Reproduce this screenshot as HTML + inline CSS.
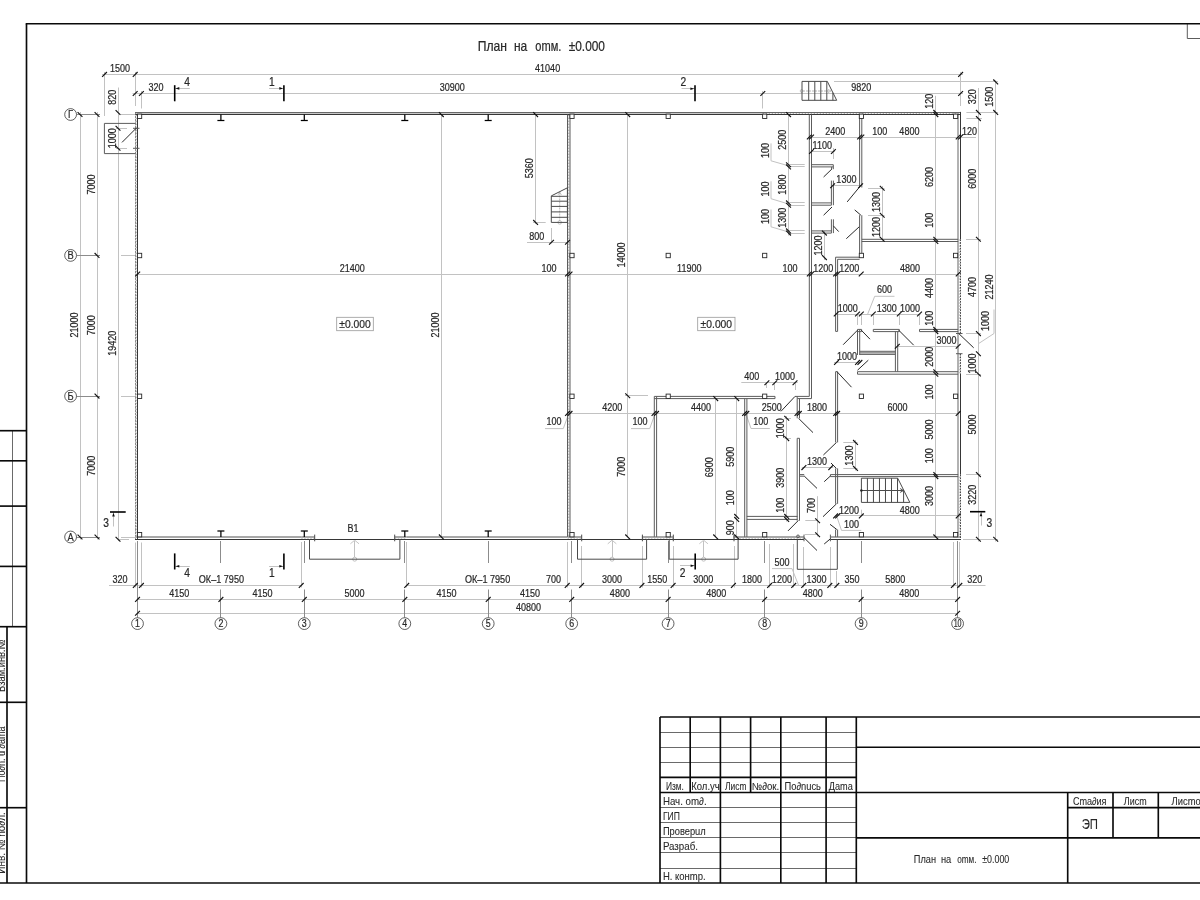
<!DOCTYPE html>
<html><head><meta charset="utf-8"><title>План на отм. ±0.000</title>
<style>
html,body{margin:0;padding:0;background:#fff}
svg{display:block}
text{font-family:"Liberation Sans",sans-serif;font-size:10.5px;fill:#262626;stroke:#262626;stroke-width:.22px;text-anchor:middle}
path,rect,circle{fill:none}
.t{stroke:#c2c2c2;stroke-width:1}
.e2{stroke:#8c8c8c;stroke-width:1}
.g{stroke:#6a6a6a;stroke-width:1}
.k{stroke:#0a0a0a;stroke-width:1.65}
.k1{stroke:#111;stroke-width:1.15}
.w{stroke:#5c5c5c;stroke-width:1}
.wd{stroke:#363636;stroke-width:1}
.wdh{stroke:#4a4a4a;stroke-width:1;stroke-dasharray:1.8 1}
.wd2{stroke:#686868;stroke-width:1}
.wi{stroke:#989898;stroke-width:1.5}
.wi2{stroke:#a8a8a8;stroke-width:2}
.wl{stroke:#8a8a8a;stroke-width:1;stroke-dasharray:2.6 .7}
.hh2{stroke:#bcbcbc;stroke-width:1;stroke-dasharray:1.6 1.4}
.m2{stroke:#4a4a4a;stroke-width:1}
.wf{stroke:#c8c8c8;stroke-width:1}
.hh{stroke:#b0b0b0;stroke-width:1.2;stroke-dasharray:1.6 1.4}
.m{stroke:#2a2a2a;stroke-width:1}
.ib{stroke:#000;stroke-width:1.25}
.sk{stroke:#000;stroke-width:1.6}
.col{stroke:#2a2a2a;stroke-width:.9;fill:#fff}
.ax{stroke:#1c1c1c;stroke-width:.7;fill:#fff}
.bx{stroke:#999;stroke-width:.8}
.tc{stroke:#aaa;stroke-width:.7}
.tc2{stroke:#b8b8b8;stroke-width:1;stroke-dasharray:2 1}
.dot{fill:#222;stroke:none}
.ar{fill:#111;stroke:none}
</style></head><body>
<svg width="1200" height="900" viewBox="0 0 1200 900">
<rect x="0" y="0" width="1200" height="900" style="fill:#fff"/>
<path class="wf" d="M135.4 113.5L762.6 113.5"/>
<path class="hh" d="M762.6 113.5L960.6 113.5"/>
<path class="hh2" d="M136.5 114.6L136.5 536.9"/>
<path class="hh2" d="M959.3 239.3L959.3 333.5"/>
<path class="hh2" d="M959.3 353.7L959.3 374"/>
<path class="hh2" d="M959.3 476.6L959.3 536.9"/>
<path class="hh2" d="M301.2 538.2L314.7 538.2"/>
<path class="hh2" d="M394.7 538.2L406.7 538.2"/>
<path class="hh2" d="M567.5 538.2L581.6 538.2"/>
<path class="hh2" d="M641.9 538.2L673.1 538.2"/>
<path class="hh2" d="M733.4 538.2L804 538.2"/>
<path class="t" d="M354.5 541L354.5 557.2"/>
<path class="tc" d="M350.4 543.8L354.7 540.2L359 543.8"/>
<circle class="tc" cx="354.7" cy="559.2" r="2"/>
<path class="t" d="M612.5 541L612.5 557.2"/>
<path class="tc" d="M607.75 543.8L612.05 540.2L616.35 543.8"/>
<circle class="tc" cx="612.05" cy="559.2" r="2"/>
<path class="t" d="M703.5 541L703.5 557.2"/>
<path class="tc" d="M699.35 543.8L703.65 540.2L707.95 543.8"/>
<circle class="tc" cx="703.65" cy="559.2" r="2"/>
<path class="t" d="M121 114.5L135.4 114.5"/>
<path class="t" d="M121 255.5L135.4 255.5"/>
<path class="t" d="M121 396.5L135.4 396.5"/>
<path class="t" d="M121 537.5L135.4 537.5"/>
<path class="t" d="M109 585.5L301.2 585.5"/>
<path class="t" d="M406.7 585.5L985.5 585.5"/>
<path class="t" d="M137.5 599.5L957.6 599.5"/>
<path class="t" d="M137.5 613.5L957.6 613.5"/>
<path class="t" d="M135.5 542.5L135.5 587.5"/>
<path class="t" d="M141.5 542.5L141.5 587.5"/>
<path class="t" d="M301.5 542L301.5 587.5"/>
<path class="t" d="M406.5 542L406.5 587.5"/>
<path class="t" d="M567.5 542L567.5 587.5"/>
<path class="t" d="M581.5 546L581.5 587.5"/>
<path class="t" d="M642.5 546L642.5 587.5"/>
<path class="t" d="M673.5 546L673.5 587.5"/>
<path class="t" d="M734.5 546L734.5 587.5"/>
<path class="t" d="M769.5 544L769.5 587.5"/>
<path class="t" d="M793.5 544L793.5 587.5"/>
<path class="t" d="M803.5 547L803.5 587.5"/>
<path class="t" d="M830.5 547L830.5 587.5"/>
<path class="t" d="M836.5 571L836.5 587.5"/>
<path class="t" d="M953.5 542L953.5 587.5"/>
<path class="t" d="M959.5 542L959.5 587.5"/>
<path class="t" d="M772 568.6L792 568.6L798.6 585.4"/>
<path class="t" d="M102 74.5L963 74.5"/>
<path class="t" d="M132.5 93.5L963 93.5"/>
<path class="t" d="M104.5 72L104.5 116"/>
<path class="t" d="M135.5 72L135.5 106"/>
<path class="t" d="M141.5 91L141.5 108.5"/>
<path class="t" d="M762.5 91L762.5 108.5"/>
<path class="t" d="M960.5 72L960.5 106"/>
<path class="t" d="M80.5 112L80.5 539.5"/>
<path class="t" d="M97.5 112L97.5 539.5"/>
<path class="t" d="M118.5 87.5L118.5 541"/>
<path class="t" d="M119 539.5L129 539.5"/>
<path class="t" d="M116 128.5L127 128.5"/>
<path class="t" d="M116 148.5L127 148.5"/>
<path class="t" d="M978.5 88L978.5 541.5"/>
<path class="t" d="M995.5 80.5L995.5 541.5"/>
<path class="t" d="M834 81.5L998 81.5"/>
<path class="t" d="M966.4 112.5L998 112.5"/>
<path class="t" d="M966.4 118.5L982 118.5"/>
<path class="t" d="M966 239.5L981 239.5"/>
<path class="t" d="M966 333.5L981 333.5"/>
<path class="t" d="M966 374.5L981 374.5"/>
<path class="t" d="M966 474.5L981 474.5"/>
<path class="t" d="M963 539.5L998 539.5"/>
<path class="t" d="M994 309.5L994 333.5L979 343.3"/>
<path class="tc2" d="M803 91L830.5 91"/>
<circle class="tc" cx="801.6" cy="91" r="1.4"/>
<path class="tc" d="M828 89.3L830.8 91L828 92.7"/>
<path class="hh" d="M568.75 114.6L568.75 536.9"/>
<path class="t" d="M137.7 274.5L958.2 274.5"/>
<path class="t" d="M441.5 114.6L441.5 536.9"/>
<path class="t" d="M535.5 114.6L535.5 224"/>
<path class="t" d="M533 222.5L545.7 222.5"/>
<path class="t" d="M527 242.5L570 242.5"/>
<path class="t" d="M551.5 228L551.5 243.5"/>
<path class="tc2" d="M559.7 192.5L559.7 221"/>
<circle class="tc" cx="559.7" cy="222.4" r="1.8"/>
<path class="tc" d="M558 195L559.7 192L561.4 195"/>
<path class="t" d="M627.5 114.6L627.5 536.9"/>
<path class="t" d="M625 395.5L648 395.5"/>
<rect class="bx" x="336.7" y="317.3" width="36.6" height="13.4"/>
<rect class="bx" x="697.7" y="317.3" width="37.3" height="13.4"/>
<path class="t" d="M567.5 413.5L958.2 413.5"/>
<path class="t" d="M568.8 413.4L563.3 428.6L545 428.6"/>
<path class="t" d="M655.2 413.4L649.7 428.6L631 428.6"/>
<path class="t" d="M745.8 413.4L751 428.5L769.8 428.5"/>
<path class="t" d="M741.3 382.5L797.7 382.5"/>
<path class="t" d="M766.5 382.7L766.5 388"/>
<path class="t" d="M774.5 382.7L774.5 390"/>
<path class="t" d="M795.5 382.7L795.5 390"/>
<path class="t" d="M715.5 398.6L715.5 536.9"/>
<path class="t" d="M736.5 398.6L736.5 536.9"/>
<path class="t" d="M809.3 137.5L976 137.5"/>
<path class="t" d="M811.5 151.5L835 151.5"/>
<path class="t" d="M833.5 148L833.5 159"/>
<path class="t" d="M833 185.5L859.6 185.5"/>
<path class="t" d="M788.5 114.6L788.5 235.5"/>
<path class="t" d="M771 143.4L771 160.8L788.5 165.8"/>
<path class="t" d="M771 181.3L771 198.7L788.5 204"/>
<path class="t" d="M771 209.5L771 226.8L788.5 232"/>
<path class="t" d="M788.5 164.5L804.7 164.5"/>
<path class="t" d="M788.5 166.5L804.7 166.5"/>
<path class="t" d="M788.5 202.5L804.7 202.5"/>
<path class="t" d="M788.5 205.5L804.7 205.5"/>
<path class="t" d="M788.5 230.5L804.7 230.5"/>
<path class="t" d="M788.5 233.5L804.7 233.5"/>
<path class="t" d="M824.5 231L824.5 260"/>
<path class="t" d="M882.5 186L882.5 241.5"/>
<path class="t" d="M868 188.5L884.5 188.5"/>
<path class="t" d="M868 215.5L884.5 215.5"/>
<path class="t" d="M935.5 95.8L935.5 536.9"/>
<path class="t" d="M835.6 314.5L920.5 314.5"/>
<path class="t" d="M857.5 314L857.5 325"/>
<path class="t" d="M861.5 314L861.5 325"/>
<path class="t" d="M873.5 314L873.5 325"/>
<path class="t" d="M899.5 314L899.5 325"/>
<path class="t" d="M919.5 314L919.5 325"/>
<path class="t" d="M867.7 314L874.7 296.3L894.5 296.3"/>
<path class="t" d="M834 362.5L861 362.5"/>
<path class="t" d="M897.7 346.5L958.2 346.5"/>
<path class="t" d="M801.8 467.5L833.3 467.5"/>
<path class="t" d="M855.5 440L855.5 470.5"/>
<path class="t" d="M843.3 442.5L857.5 442.5"/>
<path class="t" d="M843.3 468.5L857.5 468.5"/>
<path class="t" d="M786.5 416L786.5 521.5"/>
<path class="t" d="M784.5 418.5L791 418.5"/>
<path class="t" d="M784.5 438.5L791 438.5"/>
<path class="t" d="M817.5 496.2L817.5 536.5"/>
<path class="t" d="M805.3 520.5L817.6 520.5"/>
<path class="t" d="M804.75 534.5L817.6 534.5"/>
<path class="t" d="M835.6 515.5L958.2 515.5"/>
<path class="t" d="M861.5 509.7L861.5 515.9"/>
<path class="t" d="M836.6 515.9L841.5 530.4L861.3 530.4"/>
<path class="t" d="M174.7 88.5L189.8 88.5"/>
<path class="t" d="M283.9 88.5L269.1 88.5"/>
<path class="t" d="M695 88.5L681.5 88.5"/>
<path class="t" d="M174.7 566.5L189.8 566.5"/>
<path class="t" d="M283.9 566.5L269.1 566.5"/>
<path class="t" d="M695.2 565.5L680 565.5"/>
<path class="t" d="M113.5 512L113.5 526.5"/>
<path class="t" d="M981.5 511.7L981.5 525.5"/>
<path class="g" d="M12.5 430.7L12.5 626.7"/>
<path class="g" d="M660 732.5L856.3 732.5"/>
<path class="g" d="M660 747.5L856.3 747.5"/>
<path class="g" d="M660 762.5L856.3 762.5"/>
<path class="g" d="M660 807.5L856.3 807.5"/>
<path class="g" d="M660 822.5L856.3 822.5"/>
<path class="g" d="M660 837.5L856.3 837.5"/>
<path class="g" d="M660 852.5L856.3 852.5"/>
<path class="g" d="M660 868.5L856.3 868.5"/>
<path class="wl" d="M135.5 112.4L135.5 539.3"/>
<path class="wi" d="M958 114.6L958 536.9"/>
<path class="wi2" d="M135.4 537L301.2 537"/>
<path class="wi2" d="M301.2 537L314.7 537"/>
<path class="wi2" d="M394.7 537L406.7 537"/>
<path class="wi2" d="M406.7 537L567.5 537"/>
<path class="wi2" d="M567.5 537L581.6 537"/>
<path class="wi2" d="M641.9 537L673.1 537"/>
<path class="wi2" d="M733.4 537L804 537"/>
<path class="wi2" d="M830.4 537L960.6 537"/>
<path class="e2" d="M137.5 541L137.5 617.5"/>
<path class="e2" d="M220.5 541L220.5 563"/>
<path class="e2" d="M220.5 589.5L220.5 617.5"/>
<path class="e2" d="M304.5 541L304.5 563"/>
<path class="e2" d="M304.5 589.5L304.5 617.5"/>
<path class="e2" d="M404.5 541L404.5 563"/>
<path class="e2" d="M404.5 589.5L404.5 617.5"/>
<path class="e2" d="M488.5 541L488.5 563"/>
<path class="e2" d="M488.5 589.5L488.5 617.5"/>
<path class="e2" d="M571.5 541L571.5 563"/>
<path class="e2" d="M571.5 589.5L571.5 617.5"/>
<path class="e2" d="M668.5 541L668.5 563"/>
<path class="e2" d="M668.5 589.5L668.5 617.5"/>
<path class="e2" d="M764.5 541L764.5 563"/>
<path class="e2" d="M764.5 589.5L764.5 617.5"/>
<path class="e2" d="M861.5 541L861.5 563"/>
<path class="e2" d="M861.5 589.5L861.5 617.5"/>
<path class="e2" d="M957.5 541L957.5 617.5"/>
<path class="e2" d="M76.7 114.5L100 114.5"/>
<path class="e2" d="M76.7 255.5L100 255.5"/>
<path class="e2" d="M76.7 396.5L100 396.5"/>
<path class="e2" d="M76.7 537.5L100 537.5"/>
<path class="w" d="M1187.3 24L1187.3 38.5L1200 38.5"/>
<path class="wd2" d="M135 112.5L961 112.5"/>
<path class="wd" d="M135.4 114.5L960.6 114.5"/>
<path class="wd" d="M137.5 114.6L137.5 539.3"/>
<path class="wd" d="M960.5 111.9L960.5 239.3"/>
<path class="wd" d="M960.5 374L960.5 474.6"/>
<path class="wdh" d="M960.5 239.3L960.5 333.5"/>
<path class="wdh" d="M960.5 353.7L960.5 374"/>
<path class="wdh" d="M960.5 474.6L960.5 539.8"/>
<path class="w" d="M956 333.5L962.5 333.5"/>
<path class="w" d="M956 353.7L962.5 353.7"/>
<path class="wd" d="M135 539.5L804 539.5"/>
<path class="wd" d="M830.4 539.5L961 539.5"/>
<path class="m2" d="M309.5 539.3L309.5 559.2L399.9 559.2L399.9 539.3"/>
<path class="m2" d="M314.7 534.6L314.7 541.3"/>
<path class="m2" d="M394.7 534.6L394.7 541.3"/>
<path class="m2" d="M577.5 539.3L577.5 559.2L646.6 559.2L646.6 539.3"/>
<path class="m2" d="M581.7 534.6L581.7 541.3"/>
<path class="m2" d="M642.4 534.6L642.4 541.3"/>
<path class="m2" d="M669.2 539.3L669.2 559.2L738.1 559.2L738.1 539.3"/>
<path class="m2" d="M673.3 534.6L673.3 541.3"/>
<path class="m2" d="M734 534.6L734 541.3"/>
<path class="m2" d="M797.3 539.3L797.3 569.3L837.3 569.3L837.3 539.3"/>
<path class="w" d="M133 128.3L139.5 128.3"/>
<path class="w" d="M133 148.3L139.5 148.3"/>
<path class="w" d="M135.4 123.4L104.4 123.4L104.4 153.6L135.4 153.6"/>
<path class="m2" d="M802 81.4L827.3 81.4L836.7 100.3L802 100.3Z"/>
<path class="m2" d="M808.7 81.4L808.7 100.3"/>
<path class="m2" d="M814.8 81.4L814.8 100.3"/>
<path class="m2" d="M820.8 81.4L820.8 100.3"/>
<path class="m2" d="M826.8 81.4L826.8 100.3"/>
<path class="m2" d="M832.9 92.7L832.9 100.3"/>
<path class="w" d="M567.5 114.6L567.5 536.9"/>
<path class="w" d="M570 114.6L570 536.9"/>
<path class="m2" d="M551.3 195.9L567.4 187.8L567.4 222.4L551.3 222.4Z"/>
<path class="m2" d="M551.3 196.3L567.4 196.3"/>
<path class="m2" d="M551.3 201.2L567.4 201.2"/>
<path class="m2" d="M551.3 206.4L567.4 206.4"/>
<path class="m2" d="M551.3 211.9L567.4 211.9"/>
<path class="m2" d="M551.3 217.3L567.4 217.3"/>
<path class="w" d="M654.3 396.4L654.3 536.9"/>
<path class="w" d="M656.6 396.4L656.6 536.9"/>
<path class="w" d="M654.3 396.4L775 396.4"/>
<path class="w" d="M654.3 398.6L775 398.6"/>
<path class="w" d="M775 396.4L775 398.6"/>
<path class="w" d="M744.7 398.6L744.7 536.9"/>
<path class="w" d="M746.9 398.6L746.9 536.9"/>
<path class="w" d="M746.8 516.4L797.5 516.4"/>
<path class="w" d="M746.8 519.4L797.5 519.4"/>
<path class="w" d="M809.3 114.6L809.3 396.4L795 396.4"/>
<path class="w" d="M811.5 114.6L811.5 398.6L797.3 398.6"/>
<path class="w" d="M797.2 398.6L797.2 418.3"/>
<path class="w" d="M799.5 398.6L799.5 418.3"/>
<path class="w" d="M797.2 398.6L797.2 396.4"/>
<path class="w" d="M797.2 438.3L797.2 520.7"/>
<path class="w" d="M799.5 438.3L799.5 520.7"/>
<path class="w" d="M797.2 438.3L799.5 438.3"/>
<path class="w" d="M799.4 474.6L804.2 474.6"/>
<path class="w" d="M799.4 476.2L804.2 476.2"/>
<path class="w" d="M859.6 114.6L859.6 187.5"/>
<path class="w" d="M861.8 114.6L861.8 187.5"/>
<path class="w" d="M859.6 215.2L859.6 253.3"/>
<path class="w" d="M861.8 215.2L861.8 253.3"/>
<path class="w" d="M861.8 239.3L958.2 239.3"/>
<path class="w" d="M861.8 241.5L958.2 241.5"/>
<path class="w" d="M811.5 164.7L833.3 164.7"/>
<path class="w" d="M811.5 166.9L833.3 166.9"/>
<path class="w" d="M833.3 164.7L833.3 169.2"/>
<path class="w" d="M831.6 166.9L831.6 169.2"/>
<path class="w" d="M831.4 180.6L831.4 205.2"/>
<path class="w" d="M833.4 180.6L833.4 205.2"/>
<path class="w" d="M811.5 202.9L831.4 202.9"/>
<path class="w" d="M811.5 205.2L831.4 205.2"/>
<path class="w" d="M831.4 219.3L831.4 233.1"/>
<path class="w" d="M833.4 219.3L833.4 233.1"/>
<path class="w" d="M811.5 230.9L831.4 230.9"/>
<path class="w" d="M811.5 233.1L831.4 233.1"/>
<path class="w" d="M835.6 331.4L835.6 257.2L859.2 257.2"/>
<path class="w" d="M837.6 331.4L837.6 259.3L859.6 259.3"/>
<path class="w" d="M835.6 331.4L837.6 331.4"/>
<path class="w" d="M857.5 329.4L861.6 329.4"/>
<path class="w" d="M857.5 331.6L861.6 331.6"/>
<path class="w" d="M861.6 329.4L861.6 331.6"/>
<path class="w" d="M873.3 329.4L899.3 329.4"/>
<path class="w" d="M873.3 331.6L899.3 331.6"/>
<path class="w" d="M873.3 329.4L873.3 331.6"/>
<path class="w" d="M899.3 329.4L899.3 331.6"/>
<path class="w" d="M919.5 329.4L958.2 329.4"/>
<path class="w" d="M919.5 331.6L958.2 331.6"/>
<path class="w" d="M919.5 329.4L919.5 331.6"/>
<path class="w" d="M857.5 329.4L857.5 355"/>
<path class="w" d="M859.7 329.4L859.7 355"/>
<path class="w" d="M895.4 331.6L895.4 371.7"/>
<path class="w" d="M897.7 331.6L897.7 371.7"/>
<path class="w" d="M859.7 351.3L895.4 351.3"/>
<path class="w" d="M859.7 354.4L895.4 354.4"/>
<path class="w" d="M859.7 352.9L895.4 352.9"/>
<path class="w" d="M857.5 371.7L958.2 371.7"/>
<path class="w" d="M857.5 374.2L958.2 374.2"/>
<path class="w" d="M857.5 371.7L857.5 374.2"/>
<path class="w" d="M835.6 371.7L835.6 442.4"/>
<path class="w" d="M837.6 371.7L837.6 442.4"/>
<path class="w" d="M835.6 371.7L837.6 371.7"/>
<path class="w" d="M835.6 468.4L835.6 503.8"/>
<path class="w" d="M837.6 468.4L837.6 503.8"/>
<path class="w" d="M835.6 529.5L835.6 536.9"/>
<path class="w" d="M837.6 529.5L837.6 536.9"/>
<path class="w" d="M830.4 474.6L958.2 474.6"/>
<path class="w" d="M830.4 476.6L958.2 476.6"/>
<path class="w" d="M830.4 474.6L830.4 476.6"/>
<path class="w" d="M804 534.6L804 541.3"/>
<path class="w" d="M830.4 534.6L830.4 541.3"/>
<circle class="w" cx="798" cy="536.4" r="1.4"/>
<path class="m2" d="M861.4 478.2L897.7 478.2L909.8 502.4L861.4 502.4Z"/>
<path class="m2" d="M867.42 478.2L867.42 502.4"/>
<path class="m2" d="M873.44 478.2L873.44 502.4"/>
<path class="m2" d="M879.46 478.2L879.46 502.4"/>
<path class="m2" d="M885.48 478.2L885.48 502.4"/>
<path class="m2" d="M891.5 478.2L891.5 502.4"/>
<path class="m2" d="M897.52 478.2L897.52 502.4"/>
<path class="m2" d="M903.6 490L903.6 502.4"/>
<path class="m2" d="M861.4 490.5L903.2 490.5"/>
<path class="m2" d="M900.2 488.6L903.4 490.5L900.2 492.4"/>
<rect class="col" x="137.5" y="114.1" width="4.2" height="4.4"/>
<rect class="col" x="137.5" y="253.3" width="4.2" height="4.4"/>
<rect class="col" x="137.5" y="394.1" width="4.2" height="4.4"/>
<rect class="col" x="137.5" y="532.5" width="4.2" height="4.4"/>
<rect class="col" x="569.9" y="114.1" width="4.2" height="4.4"/>
<rect class="col" x="569.9" y="253.3" width="4.2" height="4.4"/>
<rect class="col" x="569.9" y="394.1" width="4.2" height="4.4"/>
<rect class="col" x="569.9" y="532.5" width="4.2" height="4.4"/>
<rect class="col" x="666.1" y="114.1" width="4.2" height="4.4"/>
<rect class="col" x="666.1" y="253.3" width="4.2" height="4.4"/>
<rect class="col" x="666.1" y="394.1" width="4.2" height="4.4"/>
<rect class="col" x="666.1" y="532.5" width="4.2" height="4.4"/>
<rect class="col" x="762.6" y="114.1" width="4.2" height="4.4"/>
<rect class="col" x="762.6" y="253.3" width="4.2" height="4.4"/>
<rect class="col" x="762.6" y="394.1" width="4.2" height="4.4"/>
<rect class="col" x="762.6" y="532.5" width="4.2" height="4.4"/>
<rect class="col" x="859.3" y="114.1" width="4.2" height="4.4"/>
<rect class="col" x="859.3" y="253.3" width="4.2" height="4.4"/>
<rect class="col" x="859.3" y="394.1" width="4.2" height="4.4"/>
<rect class="col" x="859.3" y="532.5" width="4.2" height="4.4"/>
<rect class="col" x="953.5" y="114.1" width="4.2" height="4.4"/>
<rect class="col" x="953.5" y="253.3" width="4.2" height="4.4"/>
<rect class="col" x="953.5" y="394.1" width="4.2" height="4.4"/>
<rect class="col" x="953.5" y="532.5" width="4.2" height="4.4"/>
<circle class="ax" cx="137.5" cy="623.6" r="5.9"/>
<circle class="ax" cx="220.9" cy="623.6" r="5.9"/>
<circle class="ax" cx="304.3" cy="623.6" r="5.9"/>
<circle class="ax" cx="404.8" cy="623.6" r="5.9"/>
<circle class="ax" cx="488.2" cy="623.6" r="5.9"/>
<circle class="ax" cx="571.7" cy="623.6" r="5.9"/>
<circle class="ax" cx="668.1" cy="623.6" r="5.9"/>
<circle class="ax" cx="764.6" cy="623.6" r="5.9"/>
<circle class="ax" cx="861.1" cy="623.6" r="5.9"/>
<circle class="ax" cx="957.6" cy="623.6" r="5.9"/>
<circle class="ax" cx="70.6" cy="114.5" r="5.9"/>
<circle class="ax" cx="70.6" cy="255.4" r="5.9"/>
<circle class="ax" cx="70.6" cy="396.1" r="5.9"/>
<circle class="ax" cx="70.6" cy="537" r="5.9"/>
<path class="ib" d="M220.9 114.6L220.9 120.5"/>
<path class="ib" d="M217.4 120.5L224.4 120.5"/>
<path class="ib" d="M220.9 531L220.9 536.9"/>
<path class="ib" d="M217.4 531L224.4 531"/>
<path class="ib" d="M304.3 114.6L304.3 120.5"/>
<path class="ib" d="M300.8 120.5L307.8 120.5"/>
<path class="ib" d="M304.3 531L304.3 536.9"/>
<path class="ib" d="M300.8 531L307.8 531"/>
<path class="ib" d="M404.8 114.6L404.8 120.5"/>
<path class="ib" d="M401.3 120.5L408.3 120.5"/>
<path class="ib" d="M404.8 531L404.8 536.9"/>
<path class="ib" d="M401.3 531L408.3 531"/>
<path class="ib" d="M488.2 114.6L488.2 120.5"/>
<path class="ib" d="M484.7 120.5L491.7 120.5"/>
<path class="ib" d="M488.2 531L488.2 536.9"/>
<path class="ib" d="M484.7 531L491.7 531"/>
<path class="k1" d="M132.9 587.8L137.7 583"/>
<path class="k1" d="M139 587.8L143.8 583"/>
<path class="k1" d="M298.8 587.8L303.6 583"/>
<path class="k1" d="M404.3 587.8L409.1 583"/>
<path class="k1" d="M564.8 587.8L569.6 583"/>
<path class="k1" d="M579.2 587.8L584 583"/>
<path class="k1" d="M639.5 587.8L644.3 583"/>
<path class="k1" d="M670.7 587.8L675.5 583"/>
<path class="k1" d="M731 587.8L735.8 583"/>
<path class="k1" d="M767.2 587.8L772 583"/>
<path class="k1" d="M791.3 587.8L796.1 583"/>
<path class="k1" d="M801.3 587.8L806.1 583"/>
<path class="k1" d="M827.4 587.8L832.2 583"/>
<path class="k1" d="M834.4 587.8L839.2 583"/>
<path class="k1" d="M951 587.8L955.8 583"/>
<path class="k1" d="M957.4 587.8L962.2 583"/>
<path class="k1" d="M135.1 601.8L139.9 597"/>
<path class="k1" d="M218.5 601.8L223.3 597"/>
<path class="k1" d="M301.9 601.8L306.7 597"/>
<path class="k1" d="M402.4 601.8L407.2 597"/>
<path class="k1" d="M485.8 601.8L490.6 597"/>
<path class="k1" d="M569.3 601.8L574.1 597"/>
<path class="k1" d="M665.7 601.8L670.5 597"/>
<path class="k1" d="M762.2 601.8L767 597"/>
<path class="k1" d="M858.7 601.8L863.5 597"/>
<path class="k1" d="M955.2 601.8L960 597"/>
<path class="k1" d="M135.1 615.7L139.9 610.9"/>
<path class="k1" d="M955.2 615.7L960 610.9"/>
<path class="k1" d="M102.1 76.8L106.9 72"/>
<path class="k1" d="M132.8 76.8L137.6 72"/>
<path class="k1" d="M958.2 76.8L963 72"/>
<path class="k1" d="M132.8 95.9L137.6 91.1"/>
<path class="k1" d="M139 95.9L143.8 91.1"/>
<path class="k1" d="M760.4 95.9L765.2 91.1"/>
<path class="k1" d="M958.2 95.9L963 91.1"/>
<path class="k1" d="M77.6 112.1L82.4 116.9"/>
<path class="k1" d="M77.6 534.6L82.4 539.4"/>
<path class="k1" d="M94.6 112.1L99.4 116.9"/>
<path class="k1" d="M94.6 253L99.4 257.8"/>
<path class="k1" d="M94.6 393.7L99.4 398.5"/>
<path class="k1" d="M94.6 534.6L99.4 539.4"/>
<path class="k1" d="M115.6 110.1L120.4 114.9"/>
<path class="k1" d="M115.6 125.9L120.4 130.7"/>
<path class="k1" d="M115.6 145.9L120.4 150.7"/>
<path class="k1" d="M115.6 536.8L120.4 541.6"/>
<path class="m" d="M122 142.4L136.4 128"/>
<path class="k1" d="M976 110L980.8 114.8"/>
<path class="k1" d="M976 116.2L980.8 121"/>
<path class="k1" d="M976 236.9L980.8 241.7"/>
<path class="k1" d="M976 331.2L980.8 336"/>
<path class="k1" d="M976 351.4L980.8 356.2"/>
<path class="k1" d="M976 371.6L980.8 376.4"/>
<path class="k1" d="M976 472.2L980.8 477"/>
<path class="k1" d="M976 536.9L980.8 541.7"/>
<path class="k1" d="M993.3 79.5L998.1 84.3"/>
<path class="k1" d="M993.3 110L998.1 114.8"/>
<path class="k1" d="M993.3 536.9L998.1 541.7"/>
<path class="m" d="M958.7 333.5L973.7 347.8"/>
<path class="k1" d="M135.3 276.4L140.1 271.6"/>
<path class="k1" d="M565.1 276.4L569.9 271.6"/>
<path class="k1" d="M567.6 276.4L572.4 271.6"/>
<path class="k1" d="M806.9 276.4L811.7 271.6"/>
<path class="k1" d="M809.1 276.4L813.9 271.6"/>
<path class="k1" d="M833.2 276.4L838 271.6"/>
<path class="k1" d="M835.2 276.4L840 271.6"/>
<path class="k1" d="M858.8 276.4L863.6 271.6"/>
<path class="k1" d="M955.8 276.4L960.6 271.6"/>
<path class="k1" d="M438.9 112.2L443.7 117"/>
<path class="k1" d="M438.9 534.5L443.7 539.3"/>
<path class="k1" d="M533.2 112.2L538 117"/>
<path class="k1" d="M533.2 220L538 224.8"/>
<path class="k1" d="M549.1 244.6L553.9 239.8"/>
<path class="k1" d="M565.1 244.6L569.9 239.8"/>
<path class="k1" d="M625.3 112.2L630.1 117"/>
<path class="k1" d="M625.3 393.4L630.1 398.2"/>
<path class="k1" d="M625.3 534.5L630.1 539.3"/>
<path class="k1" d="M565.1 415.8L569.9 411"/>
<path class="k1" d="M567.6 415.8L572.4 411"/>
<path class="k1" d="M651.6 415.8L656.4 411"/>
<path class="k1" d="M654.1 415.8L658.9 411"/>
<path class="k1" d="M742.2 415.8L747 411"/>
<path class="k1" d="M744.4 415.8L749.2 411"/>
<path class="k1" d="M794.6 415.8L799.4 411"/>
<path class="k1" d="M796.9 415.8L801.7 411"/>
<path class="k1" d="M833.3 415.8L838.1 411"/>
<path class="k1" d="M835.2 415.8L840 411"/>
<path class="k1" d="M955.8 415.8L960.6 411"/>
<path class="k1" d="M764.5 385.1L769.3 380.3"/>
<path class="k1" d="M772.4 385.1L777.2 380.3"/>
<path class="k1" d="M792.6 385.1L797.4 380.3"/>
<path class="k1" d="M713.3 396.2L718.1 401"/>
<path class="k1" d="M713.3 534.5L718.1 539.3"/>
<path class="k1" d="M734.3 396.2L739.1 401"/>
<path class="k1" d="M734.3 514L739.1 518.8"/>
<path class="k1" d="M734.3 517L739.1 521.8"/>
<path class="k1" d="M734.3 534.5L739.1 539.3"/>
<path class="m" d="M795 396.4L781 411.3"/>
<path class="m" d="M798.5 418.3L813 432.6"/>
<path class="m" d="M798.3 520.5L788 530.9"/>
<path class="m" d="M804.2 476L817 488.4"/>
<path class="m" d="M861 185.2L847.2 201.9"/>
<path class="m" d="M854.7 209.9L860.9 215.2"/>
<path class="m" d="M859.2 226.8L846.3 238.7"/>
<path class="m" d="M831.9 169L823.6 177"/>
<path class="m" d="M832 207L823.6 215.2"/>
<path class="m" d="M833.4 225.9L838.7 231.6"/>
<path class="k1" d="M806.9 139.4L811.7 134.6"/>
<path class="k1" d="M809.1 139.4L813.9 134.6"/>
<path class="k1" d="M857.2 139.4L862 134.6"/>
<path class="k1" d="M859.4 139.4L864.2 134.6"/>
<path class="k1" d="M955.8 139.4L960.6 134.6"/>
<path class="k1" d="M958.2 139.4L963 134.6"/>
<path class="k1" d="M809.1 153.9L813.9 149.1"/>
<path class="k1" d="M831 153.9L835.8 149.1"/>
<path class="k1" d="M830.2 188.2L835 183.4"/>
<path class="k1" d="M858.2 188.2L863 183.4"/>
<path class="k1" d="M786.1 112.2L790.9 117"/>
<path class="k1" d="M786.1 162.3L790.9 167.1"/>
<path class="k1" d="M786.1 164.5L790.9 169.3"/>
<path class="k1" d="M786.1 200.5L790.9 205.3"/>
<path class="k1" d="M786.1 202.8L790.9 207.6"/>
<path class="k1" d="M786.1 228.5L790.9 233.3"/>
<path class="k1" d="M786.1 230.7L790.9 235.5"/>
<path class="k1" d="M822 230.7L826.8 235.5"/>
<path class="k1" d="M822 255.2L826.8 260"/>
<path class="k1" d="M879.8 185.8L884.6 190.6"/>
<path class="k1" d="M879.8 212.8L884.6 217.6"/>
<path class="k1" d="M879.8 236.9L884.6 241.7"/>
<path class="k1" d="M933.4 110L938.2 114.8"/>
<path class="k1" d="M933.4 112.2L938.2 117"/>
<path class="k1" d="M933.4 236.9L938.2 241.7"/>
<path class="k1" d="M933.4 239.1L938.2 243.9"/>
<path class="k1" d="M933.4 327L938.2 331.8"/>
<path class="k1" d="M933.4 329.2L938.2 334"/>
<path class="k1" d="M933.4 369.3L938.2 374.1"/>
<path class="k1" d="M933.4 371.8L938.2 376.6"/>
<path class="k1" d="M933.4 472.1L938.2 476.9"/>
<path class="k1" d="M933.4 474.2L938.2 479"/>
<path class="k1" d="M933.4 534.5L938.2 539.3"/>
<path class="k1" d="M833.8 316.4L838.6 311.6"/>
<path class="k1" d="M855.1 316.4L859.9 311.6"/>
<path class="k1" d="M858.9 316.4L863.7 311.6"/>
<path class="k1" d="M870.9 316.4L875.7 311.6"/>
<path class="k1" d="M896.9 316.4L901.7 311.6"/>
<path class="k1" d="M917.1 316.4L921.9 311.6"/>
<path class="m" d="M857.5 330.2L843.2 344.7"/>
<path class="m" d="M861.3 330.2L870 339.2"/>
<path class="m" d="M898.7 330.2L913.7 345.2"/>
<path class="m" d="M857.5 370.2L868.3 360.2"/>
<path class="k1" d="M834.1 364.8L838.9 360"/>
<path class="k1" d="M855.1 364.8L859.9 360"/>
<path class="k1" d="M857.5 364.8L862.3 360"/>
<path class="k1" d="M894.9 348.6L899.7 343.8"/>
<path class="k1" d="M955.8 348.6L960.6 343.8"/>
<path class="m" d="M837 371.7L851.5 387.2"/>
<path class="m" d="M836.5 442.4L823.4 455"/>
<path class="m" d="M831 463L836.3 468.4"/>
<path class="m" d="M836.5 503.8L823 516.7"/>
<path class="m" d="M830 524.3L836.8 529.5"/>
<path class="m" d="M830.4 476L824.2 481.7"/>
<path class="k1" d="M801.5 470L806.3 465.2"/>
<path class="k1" d="M828.4 470L833.2 465.2"/>
<path class="k1" d="M853.1 440L857.9 444.8"/>
<path class="k1" d="M853.1 466L857.9 470.8"/>
<path class="k1" d="M784.3 415.9L789.1 420.7"/>
<path class="k1" d="M784.3 436.2L789.1 441"/>
<path class="k1" d="M784.3 514L789.1 518.8"/>
<path class="k1" d="M784.3 517L789.1 521.8"/>
<path class="k1" d="M815.2 518.35L820 523.15"/>
<path class="k1" d="M815.2 532.35L820 537.15"/>
<path class="k1" d="M833.2 518.3L838 513.5"/>
<path class="k1" d="M835.2 518.3L840 513.5"/>
<path class="k1" d="M858.9 518.3L863.7 513.5"/>
<path class="k1" d="M955.8 518.3L960.6 513.5"/>
<path class="m" d="M804 537.7L817 550.5"/>
<path class="m" d="M830.4 538.8L824.2 544"/>
<circle class="dot" cx="861.4" cy="490.5" r="1.2"/>
<path class="sk" d="M174.7 85.2L174.7 101.3"/>
<path class="ar" d="M175.5 88.4L179.3 87.1L179.3 89.7Z"/>
<path class="sk" d="M283.9 85.2L283.9 101.3"/>
<path class="ar" d="M283.1 88.4L279.3 87.1L279.3 89.7Z"/>
<path class="sk" d="M695 85.2L695 101.3"/>
<path class="ar" d="M694.2 88.8L690.4 87.5L690.4 90.1Z"/>
<path class="sk" d="M174.7 553.4L174.7 569.5"/>
<path class="ar" d="M175.5 566.2L179.3 564.9L179.3 567.5Z"/>
<path class="sk" d="M283.9 553.4L283.9 569.5"/>
<path class="ar" d="M283.1 566.2L279.3 564.9L279.3 567.5Z"/>
<path class="sk" d="M695.2 553.4L695.2 569.5"/>
<path class="ar" d="M694.4 565.8L690.6 564.5L690.6 567.1Z"/>
<path class="sk" d="M110 512L125.7 512"/>
<path class="ar" d="M113.5 512.8L112.2 516.6L114.8 516.6Z"/>
<path class="sk" d="M970 511.7L985.3 511.7"/>
<path class="ar" d="M981 512.5L979.7 516.3L982.3 516.3Z"/>
<path class="k" d="M25.7 23.75L1200 23.75"/>
<path class="k" d="M26.5 23.75L26.5 883"/>
<path class="k" d="M0 883L1200 883"/>
<path class="k" d="M0 430.7L26.5 430.7"/>
<path class="k" d="M0 460.8L26.5 460.8"/>
<path class="k" d="M0 506.1L26.5 506.1"/>
<path class="k" d="M0 566.4L26.5 566.4"/>
<path class="k" d="M0 626.7L26.5 626.7"/>
<path class="k" d="M0 702.3L26.5 702.3"/>
<path class="k" d="M0 807.7L26.5 807.7"/>
<path class="k" d="M7 626.7L7 883"/>
<path class="k" d="M660 717L1200 717"/>
<path class="k" d="M660 777.4L856.3 777.4"/>
<path class="k" d="M660 792.5L1200 792.5"/>
<path class="k" d="M856.3 747.2L1200 747.2"/>
<path class="k" d="M856.3 837.8L1200 837.8"/>
<path class="k" d="M660 717L660 883"/>
<path class="k" d="M690.2 717L690.2 792.5"/>
<path class="k" d="M750.6 717L750.6 792.5"/>
<path class="k" d="M720.4 717L720.4 883"/>
<path class="k" d="M780.8 717L780.8 883"/>
<path class="k" d="M826.1 717L826.1 883"/>
<path class="k" d="M856.3 717L856.3 883"/>
<path class="k" d="M1067.7 792.5L1067.7 883"/>
<path class="k" d="M1113 792.5L1113 837.8"/>
<path class="k" d="M1158.3 792.5L1158.3 837.8"/>
<path class="k" d="M1067.7 807.6L1200 807.6"/>
<g opacity="0.99">
<text transform="translate(4.6 665.7) rotate(-90) scale(1 1)" style="font-size:10.3px;stroke-width:.08px;" textLength="52.5" lengthAdjust="spacingAndGlyphs">Взам.инв.№</text>
<text transform="translate(4.6 754.3) rotate(-90) scale(1 1)" style="font-size:10.3px;stroke-width:.08px;" textLength="55.5" lengthAdjust="spacingAndGlyphs">По∂n. u ∂аmа</text>
<text transform="translate(4.6 842.9) rotate(-90) scale(1 1)" style="font-size:10.3px;stroke-width:.08px;" textLength="61.5" lengthAdjust="spacingAndGlyphs">Инв. № nо∂л.</text>
<text transform="translate(674.9 789.7) scale(0.84 1)" style="font-size:10.3px;stroke-width:.08px;" textLength="21.43" lengthAdjust="spacingAndGlyphs">Изм.</text>
<text transform="translate(705.5 789.7) scale(0.8 1)" style="font-size:10.3px;stroke-width:.08px;" textLength="35.62" lengthAdjust="spacingAndGlyphs">Кол.уч</text>
<text transform="translate(735.7 789.7) scale(0.84 1)" style="font-size:10.3px;stroke-width:.08px;" textLength="25.48" lengthAdjust="spacingAndGlyphs">Лисm</text>
<text transform="translate(765.5 789.7) scale(0.8 1)" style="font-size:10.3px;stroke-width:.08px;" textLength="34.25" lengthAdjust="spacingAndGlyphs">№∂ок.</text>
<text transform="translate(802.7 789.7) scale(0.84 1)" style="font-size:10.3px;stroke-width:.08px;" textLength="43.33" lengthAdjust="spacingAndGlyphs">По∂nucь</text>
<text transform="translate(840.8 789.7) scale(0.84 1)" style="font-size:10.3px;stroke-width:.08px;" textLength="28.57" lengthAdjust="spacingAndGlyphs">Даmа</text>
<text transform="translate(662.9 804.6) scale(0.84 1)" style="text-anchor:start;font-size:10.3px;stroke-width:.08px;" textLength="52.02" lengthAdjust="spacingAndGlyphs">Нач. оm∂.</text>
<text transform="translate(662.9 819.6) scale(0.84 1)" style="text-anchor:start;font-size:10.3px;stroke-width:.08px;" textLength="20.24" lengthAdjust="spacingAndGlyphs">ГИП</text>
<text transform="translate(662.9 834.8) scale(0.84 1)" style="text-anchor:start;font-size:10.3px;stroke-width:.08px;" textLength="50.95" lengthAdjust="spacingAndGlyphs">Проверuл</text>
<text transform="translate(662.9 849.7) scale(0.84 1)" style="text-anchor:start;font-size:10.3px;stroke-width:.08px;" textLength="41.67" lengthAdjust="spacingAndGlyphs">Разраб.</text>
<text transform="translate(662.9 880.2) scale(0.84 1)" style="text-anchor:start;font-size:10.3px;stroke-width:.08px;" textLength="50.95" lengthAdjust="spacingAndGlyphs">Н. конmр.</text>
<text transform="translate(1089.7 805) scale(0.84 1)" style="font-size:10.3px;stroke-width:.08px;" textLength="40" lengthAdjust="spacingAndGlyphs">Сmа∂ия</text>
<text transform="translate(1135.2 805) scale(0.84 1)" style="font-size:10.3px;stroke-width:.08px;" textLength="27.02" lengthAdjust="spacingAndGlyphs">Лисm</text>
<text transform="translate(1171.6 805) scale(0.84 1)" style="text-anchor:start;font-size:10.3px;stroke-width:.08px;" textLength="40.48" lengthAdjust="spacingAndGlyphs">Лисmов</text>
<text transform="translate(1089.8 828.8) scale(0.8 1)" style="font-size:15.2px;stroke-width:.08px;" textLength="20.38" lengthAdjust="spacingAndGlyphs">ЭП</text>
<text transform="translate(913.8 863.2) scale(0.84 1)" style="text-anchor:start;font-size:10.3px;stroke-width:.08px;" textLength="26.43" lengthAdjust="spacingAndGlyphs">План</text>
<text transform="translate(940.9 863.2) scale(0.84 1)" style="text-anchor:start;font-size:10.3px;stroke-width:.08px;" textLength="12.26" lengthAdjust="spacingAndGlyphs">на</text>
<text transform="translate(957.2 863.2) scale(0.84 1)" style="text-anchor:start;font-size:10.3px;stroke-width:.08px;" textLength="22.98" lengthAdjust="spacingAndGlyphs">оmм.</text>
<text transform="translate(982.2 863.2) scale(0.84 1)" style="text-anchor:start;font-size:10.3px;stroke-width:.08px;" textLength="32.26" lengthAdjust="spacingAndGlyphs">±0.000</text>
<text transform="translate(477.7 50.9) scale(0.84 1)" style="text-anchor:start;font-size:14px;" textLength="34.76" lengthAdjust="spacingAndGlyphs">План</text>
<text transform="translate(514 50.9) scale(0.84 1)" style="text-anchor:start;font-size:14px;" textLength="15.83" lengthAdjust="spacingAndGlyphs">на</text>
<text transform="translate(535.3 50.9) scale(0.84 1)" style="text-anchor:start;font-size:14px;" textLength="30.95" lengthAdjust="spacingAndGlyphs">оmм.</text>
<text transform="translate(568.7 50.9) scale(0.84 1)" style="text-anchor:start;font-size:14px;" textLength="43.21" lengthAdjust="spacingAndGlyphs">±0.000</text>
<text transform="translate(353.1 531.8) scale(0.88 1)" style="font-size:10.2px;">В1</text>
<text transform="translate(137.5 627.4) scale(0.82 1)" style="font-size:10.8px;">1</text>
<text transform="translate(220.9 627.4) scale(0.82 1)" style="font-size:10.8px;">2</text>
<text transform="translate(304.3 627.4) scale(0.82 1)" style="font-size:10.8px;">3</text>
<text transform="translate(404.8 627.4) scale(0.82 1)" style="font-size:10.8px;">4</text>
<text transform="translate(488.2 627.4) scale(0.82 1)" style="font-size:10.8px;">5</text>
<text transform="translate(571.7 627.4) scale(0.82 1)" style="font-size:10.8px;">6</text>
<text transform="translate(668.1 627.4) scale(0.82 1)" style="font-size:10.8px;">7</text>
<text transform="translate(764.6 627.4) scale(0.82 1)" style="font-size:10.8px;">8</text>
<text transform="translate(861.1 627.4) scale(0.82 1)" style="font-size:10.8px;">9</text>
<text transform="translate(957.6 627.4) scale(0.66 1)" style="font-size:10.8px;">10</text>
<text transform="translate(70.6 118.4) scale(0.85 1)" style="font-size:11px;">Г</text>
<text transform="translate(70.6 259.3) scale(0.85 1)" style="font-size:11px;">В</text>
<text transform="translate(70.6 400) scale(0.85 1)" style="font-size:11px;">Б</text>
<text transform="translate(70.6 540.9) scale(0.85 1)" style="font-size:11px;">А</text>
<text transform="translate(120 583) scale(0.86 1)">320</text>
<text transform="translate(221.4 583) scale(0.86 1)" textLength="52.56" lengthAdjust="spacingAndGlyphs">ОК–1 7950</text>
<text transform="translate(487.6 583) scale(0.86 1)" textLength="52.56" lengthAdjust="spacingAndGlyphs">ОК–1 7950</text>
<text transform="translate(553.5 583) scale(0.86 1)">700</text>
<text transform="translate(612 583) scale(0.86 1)">3000</text>
<text transform="translate(657.3 583) scale(0.86 1)">1550</text>
<text transform="translate(703.2 583) scale(0.86 1)">3000</text>
<text transform="translate(752 583) scale(0.86 1)">1800</text>
<text transform="translate(781.9 583) scale(0.86 1)">1200</text>
<text transform="translate(816.5 583) scale(0.86 1)">1300</text>
<text transform="translate(852 583) scale(0.86 1)">350</text>
<text transform="translate(895.2 583) scale(0.86 1)">5800</text>
<text transform="translate(974.7 583) scale(0.86 1)">320</text>
<text transform="translate(179.2 597) scale(0.86 1)">4150</text>
<text transform="translate(262.6 597) scale(0.86 1)">4150</text>
<text transform="translate(354.55 597) scale(0.86 1)">5000</text>
<text transform="translate(446.5 597) scale(0.86 1)">4150</text>
<text transform="translate(529.95 597) scale(0.86 1)">4150</text>
<text transform="translate(619.9 597) scale(0.86 1)">4800</text>
<text transform="translate(716.35 597) scale(0.86 1)">4800</text>
<text transform="translate(812.85 597) scale(0.86 1)">4800</text>
<text transform="translate(909.35 597) scale(0.86 1)">4800</text>
<text transform="translate(528.5 610.9) scale(0.86 1)">40800</text>
<text transform="translate(782 566.2) scale(0.86 1)">500</text>
<text transform="translate(120 72) scale(0.86 1)">1500</text>
<text transform="translate(547.6 72) scale(0.86 1)">41040</text>
<text transform="translate(156 91.1) scale(0.86 1)">320</text>
<text transform="translate(452.3 91.1) scale(0.86 1)">30900</text>
<text transform="translate(861.3 91.1) scale(0.86 1)">9820</text>
<text transform="translate(77.6 325) rotate(-90) scale(0.86 1)">21000</text>
<text transform="translate(94.6 184.5) rotate(-90) scale(0.86 1)">7000</text>
<text transform="translate(94.6 325.3) rotate(-90) scale(0.86 1)">7000</text>
<text transform="translate(94.6 465.8) rotate(-90) scale(0.86 1)">7000</text>
<text transform="translate(115.6 343.3) rotate(-90) scale(0.86 1)">19420</text>
<text transform="translate(115.6 97.3) rotate(-90) scale(0.86 1)">820</text>
<text transform="translate(115.6 138.3) rotate(-90) scale(0.86 1)">1000</text>
<text transform="translate(976 96.8) rotate(-90) scale(0.86 1)">320</text>
<text transform="translate(976 178.7) rotate(-90) scale(0.86 1)">6000</text>
<text transform="translate(976 287) rotate(-90) scale(0.86 1)">4700</text>
<text transform="translate(976 363.5) rotate(-90) scale(0.86 1)">1000</text>
<text transform="translate(976 424.4) rotate(-90) scale(0.86 1)">5000</text>
<text transform="translate(976 494.8) rotate(-90) scale(0.86 1)">3220</text>
<text transform="translate(993.3 96.8) rotate(-90) scale(0.86 1)">1500</text>
<text transform="translate(993.3 287) rotate(-90) scale(0.86 1)">21240</text>
<text transform="translate(988.5 321) rotate(-90) scale(0.86 1)">1000</text>
<text transform="translate(352.3 271.6) scale(0.86 1)">21400</text>
<text transform="translate(549 271.6) scale(0.86 1)">100</text>
<text transform="translate(689.3 271.6) scale(0.86 1)">11900</text>
<text transform="translate(790 271.6) scale(0.86 1)">100</text>
<text transform="translate(823.3 271.6) scale(0.86 1)">1200</text>
<text transform="translate(849.3 271.6) scale(0.86 1)">1200</text>
<text transform="translate(910 271.6) scale(0.86 1)">4800</text>
<text transform="translate(438.9 325) rotate(-90) scale(0.86 1)">21000</text>
<text transform="translate(533.2 168.3) rotate(-90) scale(0.86 1)">5360</text>
<text transform="translate(536.7 239.8) scale(0.86 1)">800</text>
<text transform="translate(625.3 255) rotate(-90) scale(0.86 1)">14000</text>
<text transform="translate(625.3 466.7) rotate(-90) scale(0.86 1)">7000</text>
<text transform="translate(355 328) scale(0.9 1)" style="font-size:11.8px;" textLength="35" lengthAdjust="spacingAndGlyphs">±0.000</text>
<text transform="translate(716.35 328) scale(0.9 1)" style="font-size:11.8px;" textLength="35" lengthAdjust="spacingAndGlyphs">±0.000</text>
<text transform="translate(612.3 411) scale(0.86 1)">4200</text>
<text transform="translate(701 411) scale(0.86 1)">4400</text>
<text transform="translate(771.7 411) scale(0.86 1)">2500</text>
<text transform="translate(817 411) scale(0.86 1)">1800</text>
<text transform="translate(897.5 411) scale(0.86 1)">6000</text>
<text transform="translate(554 425) scale(0.86 1)">100</text>
<text transform="translate(640 425) scale(0.86 1)">100</text>
<text transform="translate(760.8 424.5) scale(0.86 1)">100</text>
<text transform="translate(751.7 379.8) scale(0.86 1)">400</text>
<text transform="translate(785 379.8) scale(0.86 1)">1000</text>
<text transform="translate(713.3 467.3) rotate(-90) scale(0.86 1)">6900</text>
<text transform="translate(734.3 456.7) rotate(-90) scale(0.86 1)">5900</text>
<text transform="translate(734.3 497.7) rotate(-90) scale(0.86 1)">100</text>
<text transform="translate(734.3 527.7) rotate(-90) scale(0.86 1)">900</text>
<text transform="translate(835.3 134.6) scale(0.86 1)">2400</text>
<text transform="translate(879.8 134.6) scale(0.86 1)">100</text>
<text transform="translate(909.4 134.6) scale(0.86 1)">4800</text>
<text transform="translate(969.5 134.6) scale(0.86 1)">120</text>
<text transform="translate(822.3 149.1) scale(0.86 1)">1100</text>
<text transform="translate(846.4 183.4) scale(0.86 1)">1300</text>
<text transform="translate(786.1 139.7) rotate(-90) scale(0.86 1)">2500</text>
<text transform="translate(786.1 184.6) rotate(-90) scale(0.86 1)">1800</text>
<text transform="translate(786.1 217.7) rotate(-90) scale(0.86 1)">1300</text>
<text transform="translate(768.6 150.6) rotate(-90) scale(0.86 1)">100</text>
<text transform="translate(768.6 189) rotate(-90) scale(0.86 1)">100</text>
<text transform="translate(768.6 216.4) rotate(-90) scale(0.86 1)">100</text>
<text transform="translate(822 245.4) rotate(-90) scale(0.86 1)">1200</text>
<text transform="translate(879.8 202) rotate(-90) scale(0.86 1)">1300</text>
<text transform="translate(879.8 227) rotate(-90) scale(0.86 1)">1200</text>
<text transform="translate(933.4 101.2) rotate(-90) scale(0.86 1)">120</text>
<text transform="translate(933.4 177) rotate(-90) scale(0.86 1)">6200</text>
<text transform="translate(933.4 220.3) rotate(-90) scale(0.86 1)">100</text>
<text transform="translate(933.4 288) rotate(-90) scale(0.86 1)">4400</text>
<text transform="translate(933.4 318.2) rotate(-90) scale(0.86 1)">100</text>
<text transform="translate(933.4 356.7) rotate(-90) scale(0.86 1)">2000</text>
<text transform="translate(933.4 392) rotate(-90) scale(0.86 1)">100</text>
<text transform="translate(933.4 429.4) rotate(-90) scale(0.86 1)">5000</text>
<text transform="translate(933.4 455.8) rotate(-90) scale(0.86 1)">100</text>
<text transform="translate(933.4 496) rotate(-90) scale(0.86 1)">3000</text>
<text transform="translate(847.7 311.6) scale(0.86 1)">1000</text>
<text transform="translate(886.7 311.6) scale(0.86 1)">1300</text>
<text transform="translate(910 311.6) scale(0.86 1)">1000</text>
<text transform="translate(884.5 292.8) scale(0.86 1)">600</text>
<text transform="translate(847 360) scale(0.86 1)">1000</text>
<text transform="translate(946.5 343.8) scale(0.86 1)">3000</text>
<text transform="translate(817 465.2) scale(0.86 1)">1300</text>
<text transform="translate(853.1 455.6) rotate(-90) scale(0.86 1)">1300</text>
<text transform="translate(784.3 428.2) rotate(-90) scale(0.86 1)">1000</text>
<text transform="translate(784.3 477.8) rotate(-90) scale(0.86 1)">3900</text>
<text transform="translate(784.3 505.2) rotate(-90) scale(0.86 1)">100</text>
<text transform="translate(815.2 505.6) rotate(-90) scale(0.86 1)">700</text>
<text transform="translate(849 513.5) scale(0.86 1)">1200</text>
<text transform="translate(909.7 513.5) scale(0.86 1)">4800</text>
<text transform="translate(851.4 527.8) scale(0.86 1)">100</text>
<text transform="translate(187.1 85.6) scale(0.86 1)" style="font-size:11.9px;">4</text>
<text transform="translate(271.9 85.6) scale(0.86 1)" style="font-size:11.9px;">1</text>
<text transform="translate(683.3 85.8) scale(0.86 1)" style="font-size:11.9px;">2</text>
<text transform="translate(187.1 576.8) scale(0.86 1)" style="font-size:11.9px;">4</text>
<text transform="translate(271.8 576.8) scale(0.86 1)" style="font-size:11.9px;">1</text>
<text transform="translate(682.7 576.8) scale(0.86 1)" style="font-size:11.9px;">2</text>
<text transform="translate(106 527.3) scale(0.86 1)" style="font-size:11.9px;">3</text>
<text transform="translate(989.4 527.2) scale(0.86 1)" style="font-size:11.9px;">3</text>
</g>
</svg>
</body></html>
